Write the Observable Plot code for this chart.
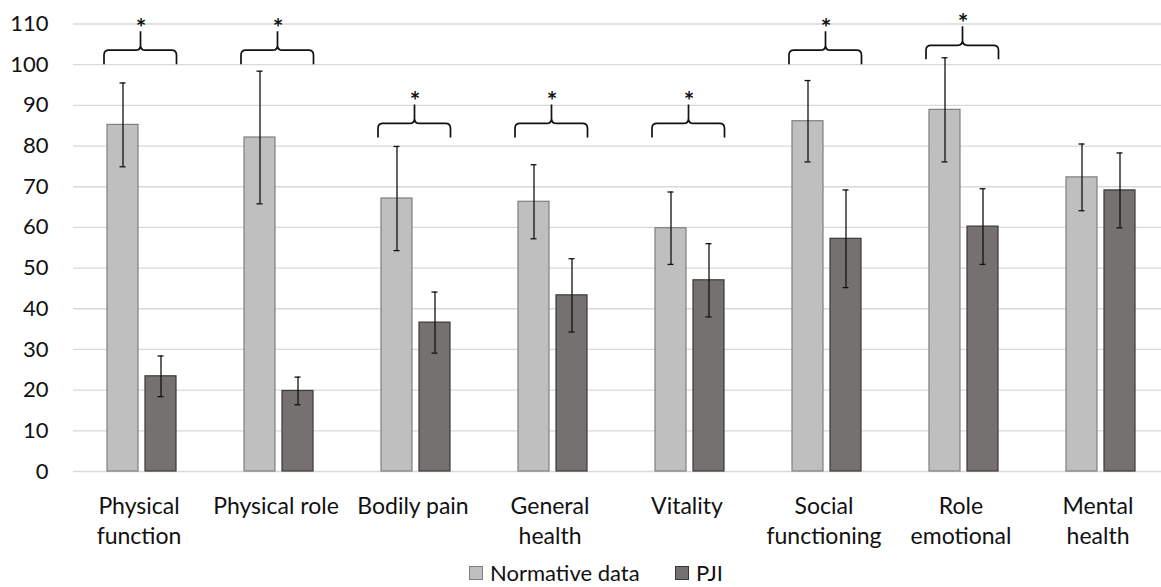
<!DOCTYPE html>
<html>
<head>
<meta charset="utf-8">
<script src="https://cdn.jsdelivr.net/npm/d3@7"></script>
<script src="https://cdn.jsdelivr.net/npm/@observablehq/plot@0.6"></script>
<style>
  html, body { margin: 0; padding: 0; background: #fff; overflow: hidden; }
  body { font-family: Lato, "Open Sans", sans-serif; color: #111; width: 1161px; height: 587px; }
  #chart svg { display: block; }
  #legend { position: relative; height: 29px; font-size: 22px; }
  .item { position: absolute; top: 2px; display: flex; align-items: center; height: 26px; line-height: 26px; }
  .sw { width: 14px; height: 14px; box-sizing: border-box; margin-right: 7px; }
</style>
</head>
<body>
<div id="chart"></div>
<div id="legend"></div>
<script>
const categories = ["Physical\nfunction", "Physical role", "Bodily pain", "General\nhealth", "Vitality", "Social\nfunctioning", "Role\nemotional", "Mental\nhealth"];
const series = ["Normative data", "PJI"];
const normMean = [85.2, 82.1, 67.1, 66.3, 59.8, 86.1, 88.9, 72.3];
const normSD   = [10.3, 16.3, 12.8, 9.1, 8.9, 10.0, 12.8, 8.2];
const pjiMean  = [23.4, 19.8, 36.6, 43.3, 47.0, 57.2, 60.2, 69.1];
const pjiSD    = [5.0, 3.4, 7.5, 9.0, 9.0, 12.0, 9.3, 9.2];
const sigCategories = ["Physical\nfunction", "Physical role", "Bodily pain", "General\nhealth", "Vitality", "Social\nfunctioning", "Role\nemotional"];
const sigLevel = [100, 100, 82, 82, 82, 100, 101.2];
const yTicks = [0, 10, 20, 30, 40, 50, 60, 70, 80, 90, 100, 110];

const fills = ["#bfbfbf", "#767171"];
const strokes = ["#7f7f7f", "#3b3838"];

const norm = categories.map((c, i) => ({category: c, value: normMean[i], sd: normSD[i]}));
const pji = categories.map((c, i) => ({category: c, value: pjiMean[i], sd: pjiSD[i]}));
const sig = sigCategories.map((c, i) => ({category: c, level: sigLevel[i]}));

function braces(index, scales) {
  const x = scales.x, y = scales.y;
  const bw = typeof x.bandwidth === "function" ? x.bandwidth() : x.bandwidth;
  const g = d3.create("svg:g").attr("fill", "none").attr("stroke", "#111").attr("stroke-width", 1.7);
  for (const d of sig) {
    const cx = x(d.category) + bw / 2 - 1;
    const xl = cx - 36.5, xr = cx + 36;
    const yb = y(d.level), yh = yb - 14, yp = yh - 19, r = 5;
    const p = `M${xl},${yb}V${yh + r}Q${xl},${yh} ${xl + r},${yh}H${cx - r}Q${cx},${yh} ${cx},${yh - r}V${yp}` +
              `M${xr},${yb}V${yh + r}Q${xr},${yh} ${xr - r},${yh}H${cx + r}Q${cx},${yh} ${cx},${yh - r}`;
    g.append("path").attr("d", p);
  }
  return g.node();
}

const errStyle = {stroke: "#111", strokeWidth: 1.3};

const chart = Plot.plot({
  width: 1161,
  height: 558,
  marginLeft: 73,
  marginRight: 0,
  marginTop: 0,
  marginBottom: 87,
  style: {fontFamily: "Lato, sans-serif", fontSize: "22px", color: "#111", background: "#fff"},
  x: {domain: categories, range: [73, 1169], padding: 0, label: null},
  y: {domain: [0, 110], range: [471, 23.5], label: null},
  marks: [
    Plot.ruleY(yTicks, {stroke: "#d9d9d9", strokeWidth: 1.3}),
    Plot.barY(norm, {x: "category", y: "value", fill: fills[0], stroke: strokes[0], strokeWidth: 1.2, insetLeft: 34, insetRight: 72}),
    Plot.barY(pji, {x: "category", y: "value", fill: fills[1], stroke: strokes[1], strokeWidth: 1.2, insetLeft: 72, insetRight: 34}),
    Plot.ruleX(norm, {x: "category", y1: d => d.value - d.sd, y2: d => d.value + d.sd, dx: -19, ...errStyle}),
    Plot.ruleX(pji, {x: "category", y1: d => d.value - d.sd, y2: d => d.value + d.sd, dx: 19, ...errStyle}),
    Plot.tickY(norm, {x: "category", y: d => d.value + d.sd, insetLeft: 46.5, insetRight: 84.5, ...errStyle}),
    Plot.tickY(norm, {x: "category", y: d => d.value - d.sd, insetLeft: 46.5, insetRight: 84.5, ...errStyle}),
    Plot.tickY(pji, {x: "category", y: d => d.value + d.sd, insetLeft: 84.5, insetRight: 46.5, ...errStyle}),
    Plot.tickY(pji, {x: "category", y: d => d.value - d.sd, insetLeft: 84.5, insetRight: 46.5, ...errStyle}),
    braces,
    Plot.text(sig, {x: "category", y: "level", text: () => "*", dy: -36, dx: -1, fontSize: 25, fontWeight: "bold", fill: "#111"}),
    Plot.axisY(yTicks, {tickSize: 0, tickPadding: 25, fontSize: 22, fill: "#111", label: null}),
    Plot.axisX({tickSize: 0, tickPadding: 21, fontSize: 23, lineHeight: 1.3, dx: -3, fill: "#111", label: null})
  ]
});
document.getElementById("chart").appendChild(chart);

const legend = document.getElementById("legend");
const lefts = [469, 675];
series.forEach((s, i) => {
  const item = document.createElement("div");
  item.className = "item";
  item.style.left = lefts[i] + "px";
  const sw = document.createElement("div");
  sw.className = "sw";
  sw.style.background = fills[i];
  sw.style.border = "1px solid " + strokes[i];
  const t = document.createElement("span");
  t.textContent = s;
  item.appendChild(sw);
  item.appendChild(t);
  legend.appendChild(item);
});
</script>
</body>
</html>
